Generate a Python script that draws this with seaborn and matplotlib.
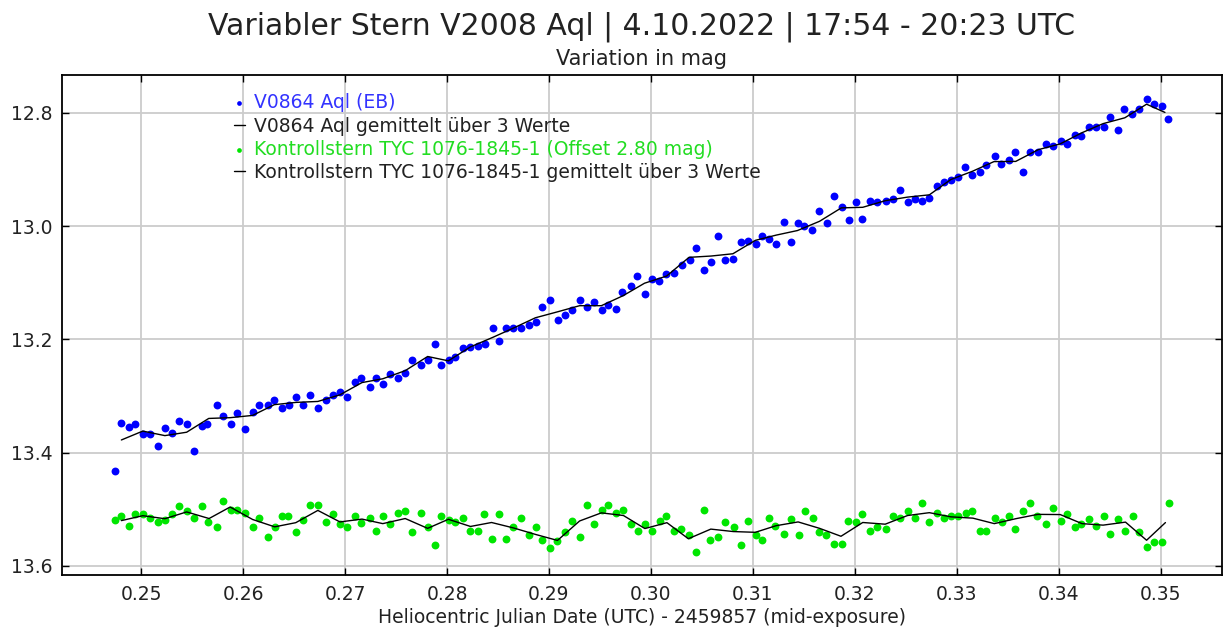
import matplotlib
matplotlib.use("Agg")
import matplotlib.pyplot as plt
import numpy as np
import pandas as pd
import seaborn as sns

# V0864 Aql (HJD - 2459857, mag)
blue_jd = [0.2474, 0.2480, 0.2488, 0.2494, 0.2502, 0.2509, 0.2517, 0.2523, 0.2530, 0.2537,
           0.2545, 0.2552, 0.2560, 0.2565, 0.2574, 0.2580, 0.2588, 0.2594, 0.2602, 0.2610,
           0.2616, 0.2624, 0.2630, 0.2638, 0.2645, 0.2652, 0.2659, 0.2666, 0.2673, 0.2681,
           0.2688, 0.2695, 0.2702, 0.2710, 0.2716, 0.2724, 0.2730,
           0.2737, 0.2744, 0.2752, 0.2759, 0.2766, 0.2774, 0.2781, 0.2788, 0.2794, 0.2802,
           0.2808, 0.2816, 0.2823, 0.2830, 0.2837, 0.2845, 0.2851, 0.2858, 0.2865, 0.2873,
           0.2880, 0.2887, 0.2893, 0.2901, 0.2909, 0.2916, 0.2923, 0.2930, 0.2937, 0.2944,
           0.2952, 0.2958, 0.2966, 0.2972, 0.2980, 0.2986, 0.2994, 0.3001, 0.3008, 0.3015,
           0.3023, 0.3030, 0.3038, 0.3044, 0.3052, 0.3059, 0.3066, 0.3073, 0.3080, 0.3088,
           0.3095, 0.3103, 0.3109, 0.3116, 0.3123, 0.3130, 0.3137, 0.3144, 0.3150, 0.3158,
           0.3165, 0.3173, 0.3179, 0.3187, 0.3194, 0.3201, 0.3207, 0.3215, 0.3222, 0.3230,
           0.3237, 0.3244, 0.3252, 0.3259, 0.3266, 0.3273, 0.3280, 0.3287, 0.3294, 0.3301,
           0.3308, 0.3315, 0.3323, 0.3329, 0.3337, 0.3343, 0.3351, 0.3357, 0.3365, 0.3372,
           0.3380, 0.3387, 0.3394, 0.3402, 0.3408, 0.3416, 0.3422, 0.3430, 0.3436, 0.3444,
           0.3450, 0.3458, 0.3464, 0.3472, 0.3479, 0.3486, 0.3493, 0.3501, 0.3507]
blue_mag = [13.432, 13.347, 13.354, 13.350, 13.368, 13.368, 13.388, 13.356, 13.366, 13.344,
            13.350, 13.398, 13.353, 13.350, 13.316, 13.335, 13.350, 13.330, 13.359, 13.328,
            13.316, 13.316, 13.308, 13.322, 13.316, 13.302, 13.316, 13.299, 13.322, 13.308,
            13.299, 13.293, 13.302, 13.276, 13.268, 13.285, 13.268,
            13.279, 13.262, 13.269, 13.260, 13.237, 13.246, 13.237, 13.208, 13.246, 13.237,
            13.231, 13.216, 13.213, 13.211, 13.208, 13.180, 13.203, 13.180, 13.180, 13.180,
            13.174, 13.169, 13.143, 13.131, 13.166, 13.157, 13.148, 13.131, 13.143, 13.134,
            13.148, 13.140, 13.146, 13.117, 13.106, 13.089, 13.120, 13.094, 13.097, 13.085,
            13.083, 13.068, 13.060, 13.038, 13.078, 13.063, 13.018, 13.060, 13.058, 13.029,
            13.026, 13.032, 13.018, 13.023, 13.032, 12.993, 13.029, 12.995, 13.000, 13.007,
            12.973, 12.995, 12.947, 12.967, 12.990, 12.958, 12.987, 12.956, 12.958, 12.955,
            12.953, 12.936, 12.958, 12.953, 12.955, 12.950, 12.930, 12.922, 12.919, 12.913,
            12.896, 12.910, 12.904, 12.893, 12.876, 12.890, 12.884, 12.870, 12.904, 12.870,
            12.870, 12.856, 12.859, 12.850, 12.856, 12.839, 12.842, 12.825, 12.825, 12.825,
            12.808, 12.831, 12.794, 12.802, 12.794, 12.776, 12.785, 12.788, 12.811]

# check star TYC 1076-1845-1, already shifted by the 2.80 mag offset
green_jd = [0.2474, 0.2480, 0.2488, 0.2494, 0.2502, 0.2509, 0.2517, 0.2523, 0.2530, 0.2537,
            0.2545, 0.2552, 0.2560, 0.2566, 0.2574, 0.2580, 0.2588, 0.2594, 0.2602, 0.2610,
            0.2616, 0.2624, 0.2631, 0.2638, 0.2644, 0.2652, 0.2659, 0.2666, 0.2673, 0.2681,
            0.2688, 0.2695, 0.2702, 0.2710, 0.2716, 0.2724, 0.2730, 0.2737, 0.2744, 0.2752,
            0.2759, 0.2766, 0.2774, 0.2781, 0.2788, 0.2794, 0.2802, 0.2808, 0.2816, 0.2823,
            0.2830,
            0.2836, 0.2844, 0.2851, 0.2858, 0.2865, 0.2873, 0.2880, 0.2887, 0.2893, 0.2901,
            0.2908, 0.2916, 0.2923, 0.2930, 0.2937, 0.2944, 0.2952, 0.2958, 0.2966, 0.2973,
            0.2980, 0.2987, 0.2994, 0.3001, 0.3009, 0.3015, 0.3023, 0.3029, 0.3037, 0.3044,
            0.3052, 0.3058, 0.3066, 0.3073, 0.3081, 0.3088, 0.3095, 0.3103, 0.3109, 0.3116,
            0.3122, 0.3130, 0.3137, 0.3145, 0.3151, 0.3159, 0.3165, 0.3172, 0.3179, 0.3187,
            0.3193,
            0.3201, 0.3207, 0.3215, 0.3222, 0.3230, 0.3237, 0.3244, 0.3252, 0.3259, 0.3266,
            0.3273, 0.3280, 0.3287, 0.3294, 0.3301, 0.3309, 0.3315, 0.3323, 0.3329, 0.3337,
            0.3344, 0.3351, 0.3357, 0.3365, 0.3372, 0.3379, 0.3387, 0.3394, 0.3402, 0.3408,
            0.3416, 0.3422, 0.3430, 0.3436, 0.3444, 0.3450, 0.3458, 0.3465, 0.3473, 0.3479,
            0.3486, 0.3493, 0.3501, 0.3508]
green_mag = [13.519, 13.512, 13.529, 13.509, 13.509, 13.516, 13.522, 13.519, 13.509, 13.495,
             13.503, 13.516, 13.495, 13.522, 13.532, 13.486, 13.501, 13.501, 13.506, 13.532,
             13.516, 13.549, 13.532, 13.512, 13.512, 13.540, 13.519, 13.492, 13.492, 13.522,
             13.509, 13.526, 13.532, 13.512, 13.525, 13.515, 13.538, 13.512, 13.526, 13.506,
             13.503, 13.540, 13.506, 13.532, 13.563, 13.512, 13.519, 13.522, 13.515, 13.538,
             13.538,
             13.509, 13.552, 13.509, 13.552, 13.532, 13.515, 13.546, 13.532, 13.555, 13.569,
             13.556, 13.540, 13.521, 13.549, 13.492, 13.526, 13.501, 13.492, 13.506, 13.501,
             13.526, 13.538, 13.526, 13.538, 13.521, 13.512, 13.538, 13.535, 13.546, 13.575,
             13.501, 13.555, 13.549, 13.523, 13.532, 13.563, 13.521, 13.546, 13.555, 13.515,
             13.529, 13.543, 13.518, 13.546, 13.503, 13.515, 13.540, 13.546, 13.561, 13.561,
             13.521,
             13.523, 13.509, 13.538, 13.532, 13.535, 13.512, 13.515, 13.503, 13.515, 13.489,
             13.523, 13.506, 13.516, 13.512, 13.512, 13.506, 13.503, 13.538, 13.538, 13.515,
             13.523, 13.512, 13.535, 13.503, 13.489, 13.512, 13.526, 13.498, 13.521, 13.509,
             13.532, 13.526, 13.518, 13.529, 13.512, 13.543, 13.518, 13.538, 13.512, 13.540,
             13.566, 13.558, 13.558, 13.489]

x_ticks = [0.25, 0.26, 0.27, 0.28, 0.29, 0.30, 0.31, 0.32, 0.33, 0.34, 0.35]
y_ticks = [12.8, 13.0, 13.2, 13.4, 13.6]

labels = ["V0864 Aql (EB)",
          "V0864 Aql gemittelt über 3 Werte",
          "Kontrollstern TYC 1076-1845-1 (Offset 2.80 mag)",
          "Kontrollstern TYC 1076-1845-1 gemittelt über 3 Werte"]

blue = "#0000ff"
green = "#00e600"


def mean_of_3(jd, mag):
    # averaged in consecutive blocks of 3 measurements (last block may be shorter)
    d = pd.DataFrame({"jd": jd, "mag": mag})
    return d.groupby(np.arange(len(d)) // 3).mean()


var_df = pd.DataFrame({"jd": blue_jd, "mag": blue_mag})
chk_df = pd.DataFrame({"jd": green_jd, "mag": green_mag})
var_mean = mean_of_3(blue_jd, blue_mag)
chk_mean = mean_of_3(green_jd, green_mag)

sns.set_theme(style="whitegrid")
plt.rcParams["font.family"] = ["DejaVu Sans"]

fig = plt.figure(figsize=(12.24, 6.32), dpi=100)
ax = fig.add_axes([0.0507, 0.0902, 0.9477, 0.7911])

sns.scatterplot(data=var_df, x="jd", y="mag", ax=ax, color=blue, s=32,
                linewidth=0, label=labels[0], zorder=3)
sns.lineplot(data=var_mean, x="jd", y="mag", ax=ax, color="black",
             lw=1.0, estimator=None, label=labels[1], zorder=4)
sns.scatterplot(data=chk_df, x="jd", y="mag", ax=ax, color=green, s=32,
                linewidth=0, label=labels[2], zorder=3)
sns.lineplot(data=chk_mean, x="jd", y="mag", ax=ax, color="black",
             lw=1.0, estimator=None, label=labels[3], zorder=4)

ax.set_xlim(0.24225, 0.3560)
ax.set_ylim(13.616, 12.7335)
ax.set_xticks(x_ticks)
ax.set_xticklabels([f"{t:.2f}" for t in x_ticks])
ax.set_yticks(y_ticks)
ax.set_yticklabels([f"{t:.1f}" for t in y_ticks])
ax.tick_params(axis="both", direction="in", length=5, width=1, color="black",
               labelsize=13.5, labelcolor="#222222", top=True, right=True,
               bottom=True, left=True, pad=7)
ax.grid(True, color="#cccccc", lw=1.3)
for sp in ax.spines.values():
    sp.set_color("black")
    sp.set_linewidth(1.3)

ax.set_xlabel("Heliocentric Julian Date (UTC) - 2459857 (mid-exposure)",
              fontsize=13.5, color="#222222", labelpad=3)
ax.set_ylabel("")

leg = ax.legend(loc="upper left", bbox_to_anchor=(0.140, 0.982), frameon=False,
                fontsize=13.5, handlelength=0.6, handletextpad=0.5,
                labelspacing=0.22, borderpad=0, markerscale=0.6)
for txt, col in zip(leg.get_texts(), ["#3333ff", "#222222", "#22dd22", "#222222"]):
    txt.set_color(col)

fig.text(0.524, 0.957, "Variabler Stern V2008 Aql | 4.10.2022 | 17:54 - 20:23 UTC",
         ha="center", va="center", fontsize=21.5, color="#222222")
fig.text(0.524, 0.907, "Variation in mag", ha="center", va="center",
         fontsize=15, color="#222222")

fig.savefig("out.png", dpi=100)
